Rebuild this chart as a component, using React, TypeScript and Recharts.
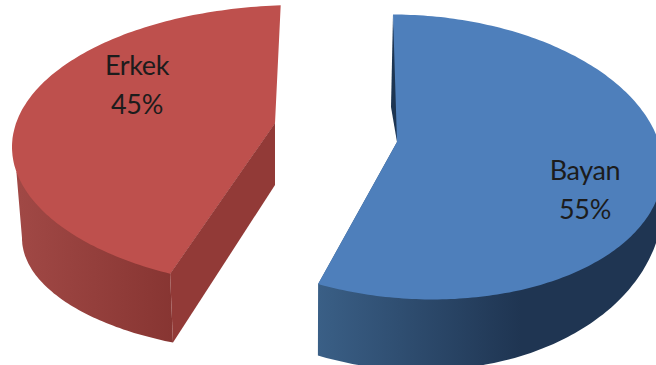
import React from "react";
import { PieChart, Pie } from "recharts";

const categories = ["Bayan", "Erkek"];
const shares = [55, 45];
const rows = categories.map((name, i) => ({ name, value: shares[i] }));

const WIDTH = 656;
const HEIGHT = 365;
const CX = 328;
const CY = 182;
const R = 250;

type Ring = { dx: number; dy: number; rx: number; ry: number; shear: number; phi0: number; scale: number };
type View = {
  top: Ring;
  base: Ring;
  apex: [number, number];
  apexBase: [number, number];
  stopPhi: number;
  jointPhi: number;
  cornerAtEnd: boolean;
  face: string;
  wallStops: [number, string][];
  wallSpan: [number, number];
  endWall?: string;
  sliver?: { fill: string; a: [number, number]; b: [number, number] };
  label: [number, number];
};

// Each wedge has its own perspective ellipse, since the exploded slices sit at different depths.
const views: View[] = [
  {
    top: { dx: 85, dy: -25, rx: 1, ry: 0.568, shear: 0.045, phi0: -4.6, scale: 1.045 },
    base: { dx: 77, dy: 8, rx: 1.032, ry: 0.72, shear: 0.045, phi0: -4.6, scale: 1.032 },
    apex: [69, -40],
    apexBase: [69, -40],
    stopPhi: 90,
    jointPhi: 90,
    cornerAtEnd: true,
    face: "#4e7fbb",
    wallStops: [
      [0, "#3a5f86"],
      [0.6, "#1f3552"],
      [1, "#1f3552"],
    ],
    wallSpan: [318, 656],
    sliver: { fill: "#1d3552", a: [63, -75], b: [72, -49] },
    label: [257, 8],
  },
  {
    top: { dx: -28, dy: -35, rx: 1.152, ry: 0.568, shear: 0, phi0: 206.8, scale: 0.922 },
    base: { dx: -48, dy: 56, rx: 1.032, ry: 0.46, shear: 0, phi0: 204.5, scale: 0.922 },
    apex: [-53, -59],
    apexBase: [-53, 3],
    stopPhi: 270,
    jointPhi: 260,
    cornerAtEnd: false,
    face: "#be504d",
    wallStops: [
      [0, "#a04845"],
      [1, "#873532"],
    ],
    wallSpan: [20, 174],
    endWall: "#923a37",
    label: [-191, -97],
  },
];

const toPoint = (ring: Ring, phi: number, cx: number, cy: number, radius: number): [number, number] => {
  const a = (phi * Math.PI) / 180;
  const run = ring.rx * radius * Math.sin(a);
  return [cx + ring.dx + run, cy + ring.dy - ring.ry * radius * Math.cos(a) + ring.shear * run];
};

const arcPoints = (ring: Ring, from: number, to: number, cx: number, cy: number, radius: number) => {
  const steps = Math.max(2, Math.ceil(Math.abs(to - from)));
  const out: [number, number][] = [];
  for (let i = 0; i <= steps; i++) out.push(toPoint(ring, from + ((to - from) * i) / steps, cx, cy, radius));
  return out;
};

const toPath = (pts: [number, number][]) =>
  "M" + pts.map(([x, y]) => `${x.toFixed(1)} ${y.toFixed(1)}`).join("L") + "Z";

function WedgeShape(props: any) {
  const { cx, cy, outerRadius, startAngle, endAngle, index } = props;
  const view = views[index];
  const span = Math.abs(startAngle - endAngle);
  const apex: [number, number] = [cx + view.apex[0], cy + view.apex[1]];
  const apexBase: [number, number] = [cx + view.apexBase[0], cy + view.apexBase[1]];

  const topStart = view.top.phi0;
  const topEnd = view.top.phi0 + span * view.top.scale;
  const topArc = arcPoints(view.top, topStart, topEnd, cx, cy, outerRadius);

  const baseCorner = view.cornerAtEnd ? view.base.phi0 + span * view.base.scale : view.base.phi0;
  const baseArc = arcPoints(view.base, baseCorner, view.stopPhi, cx, cy, outerRadius);
  const topCorner = view.cornerAtEnd ? topArc[topArc.length - 1] : topArc[0];
  const joint = toPoint(view.top, view.jointPhi, cx, cy, outerRadius);
  const gradientId = `wall-${index}`;

  return (
    <g>
      <defs>
        <linearGradient id={gradientId} gradientUnits="userSpaceOnUse" x1={view.wallSpan[0]} x2={view.wallSpan[1]} y1={0} y2={0}>
          {view.wallStops.map(([offset, color]) => (
            <stop key={offset} offset={offset} stopColor={color} />
          ))}
        </linearGradient>
      </defs>
      <path d={toPath([topCorner, ...baseArc, joint, apex])} fill={`url(#${gradientId})`} />
      {view.endWall && <path d={toPath([topCorner, apex, apexBase, baseArc[0]])} fill={view.endWall} />}
      {view.sliver && (
        <path
          d={toPath([
            topArc[0],
            [cx + view.sliver.a[0], cy + view.sliver.a[1]],
            apex,
            [cx + view.sliver.b[0], cy + view.sliver.b[1]],
          ])}
          fill={view.sliver.fill}
        />
      )}
      <path d={toPath([apex, ...topArc])} fill={view.face} />
    </g>
  );
}

function WedgeLabel(props: any) {
  const { cx, cy, index } = props;
  const [dx, dy] = views[index].label;
  const x = cx + dx;
  const y = cy + dy;
  return (
    <text x={x} y={y} textAnchor="middle" fontFamily="Lato" fontSize={27} letterSpacing={-0.4} fill="#1c1c1c">
      <tspan x={x} dy={-10}>{categories[index]}</tspan>
      <tspan x={x} dy={39}>{`${shares[index]}%`}</tspan>
    </text>
  );
}

export default function App() {
  return (
    <div style={{ position: "absolute", left: 0, top: 0, width: WIDTH, height: HEIGHT, background: "#fff", overflow: "hidden" }}>
      <PieChart width={WIDTH} height={HEIGHT} margin={{ top: 0, right: 0, bottom: 0, left: 0 }}>
        <Pie
          data={rows}
          dataKey="value"
          nameKey="name"
          cx={CX}
          cy={CY}
          outerRadius={R}
          startAngle={90}
          endAngle={-270}
          stroke="none"
          shape={WedgeShape}
          label={WedgeLabel}
          labelLine={false}
          isAnimationActive={false}
        />
      </PieChart>
    </div>
  );
}
